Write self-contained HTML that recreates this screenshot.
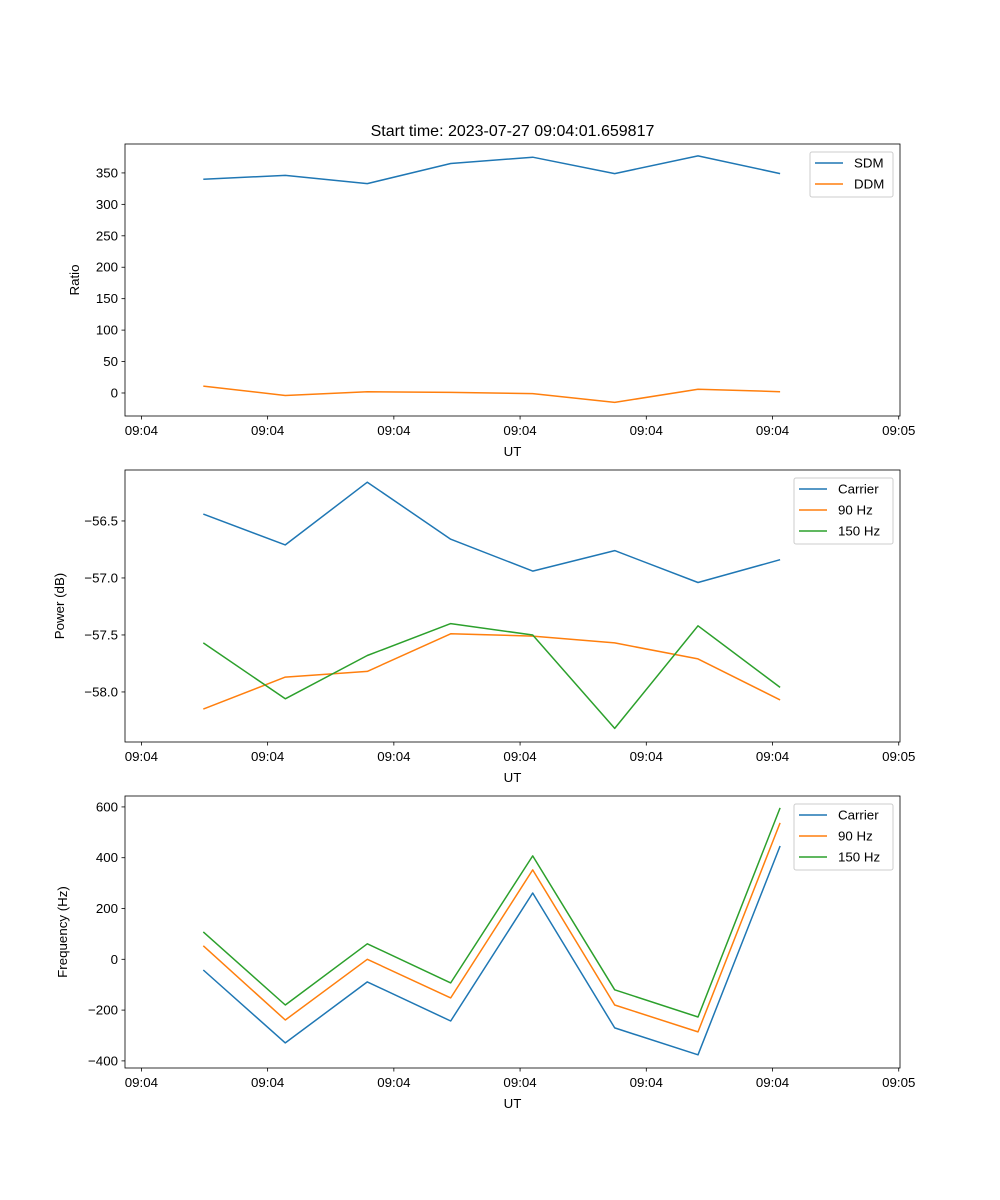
<!DOCTYPE html>
<html><head><meta charset="utf-8"><style>
body{margin:0;background:#fff}
svg{display:block;font-family:"Liberation Sans","DejaVu Sans",sans-serif}
</style></head><body>
<svg id="fig" width="1000" height="1200"></svg>
<script>
const xTime = [4.9, 11.4, 17.9, 24.5, 31.0, 37.5, 44.1, 50.6];
const xTickVals = [0, 10, 20, 30, 40, 50, 60];
const xTickLabels = ["09:04","09:04","09:04","09:04","09:04","09:04","09:05"];
const sdm = [340, 346, 333, 365, 375, 349, 377, 349];
const ddm = [11, -4, 2, 1, -1, -15, 6, 2];
const powCarrier = [-56.44, -56.71, -56.16, -56.66, -56.94, -56.76, -57.04, -56.84];
const pow90 = [-58.15, -57.87, -57.82, -57.49, -57.51, -57.57, -57.71, -58.07];
const pow150 = [-57.57, -58.06, -57.68, -57.40, -57.50, -58.32, -57.42, -57.96];
const freqCarrier = [-42, -329, -89, -243, 261, -270, -376, 446];
const freq90 = [53, -239, 0, -152, 352, -180, -286, 537];
const freq150 = [108, -180, 61, -93, 407, -120, -227, 596];
const ticks1 = [0, 50, 100, 150, 200, 250, 300, 350];
const ticks2 = [-58.0, -57.5, -57.0, -56.5];
const ticks3 = [-400, -200, 0, 200, 400, 600];

const NS = "http://www.w3.org/2000/svg";
const svg = document.getElementById("fig");
function el(tag, attrs, parent, text){
  const e = document.createElementNS(NS, tag);
  for (const k in attrs) e.setAttribute(k, attrs[k]);
  if (text !== undefined) e.textContent = text;
  (parent || svg).appendChild(e);
  return e;
}
const L = 125, R = 900;
const xMin = -1.3, xMax = 60.1;
function xs(v){ return L + (v - xMin) / (xMax - xMin) * (R - L); }
function fmt(v, d){ const s = v.toFixed(d); return v < 0 ? "\u2212" + s.slice(1) : s; }

function panel(name, top, bot, yMin, yMax, ticks, dec, ylabel, ylabelX, series, leg){
  const g = el("g", {});
  
  
  const ys = v => bot - (v - yMin) / (yMax - yMin) * (bot - top);
  ticks.forEach(t => {
    const y = ys(t);
    el("line", {x1: L-3.5, x2: L, y1: y, y2: y, stroke: "#000", "stroke-width": 0.8}, g);
    const tx = el("text", {x: L-7, y: y+4.5, "text-anchor": "end", "font-size": 13.3}, g, fmt(t, dec));
    
    
  });
  xTickVals.forEach((t, i) => {
    const x = xs(t);
    el("line", {x1: x, x2: x, y1: bot, y2: bot+3.5, stroke: "#000", "stroke-width": 0.8}, g);
    const tx = el("text", {x: x, y: bot+19, "text-anchor": "middle", "font-size": 13.3}, g, xTickLabels[i]);
    
    
  });
  const xl = el("text", {x: (L+R)/2, y: bot+40, "text-anchor": "middle", "font-size": 13.3}, g, "UT");
  
  
  const yl = el("text", {x: ylabelX, y: (top+bot)/2, "text-anchor": "middle", "font-size": 13.3, transform: `rotate(-90 ${ylabelX} ${(top+bot)/2})`}, g, ylabel);
  
  
  series.forEach(s => {
    const pts = s.vals.map((v, i) => xs(xTime[i]).toFixed(1) + "," + ys(v).toFixed(1)).join(" ");
    const p = el("polyline", {points: pts, fill: "none", stroke: s.color, "stroke-width": 1.5, "stroke-linejoin": "round"}, g);
    
    
  });
  el("rect", {x: L, y: top, width: R-L, height: bot-top, fill: "none", stroke: "#000", "stroke-width": 0.8}, g);
  const lg = el("g", {}, g);
  
  
  const lh = 3 + series.length * 21;
  el("rect", {x: leg.x, y: top+8, width: leg.w, height: lh, fill: "#fff", stroke: "#ccc", rx: 2}, lg);
  series.forEach((s, i) => {
    const y = top + 19 + i * 21;
    el("line", {x1: leg.x+5, x2: leg.x+33, y1: y, y2: y, stroke: s.color, "stroke-width": 1.5}, lg);
    const t = el("text", {x: leg.x+44, y: y+4.5, "font-size": 13.3}, lg, s.label);
    
    
  });
}
const title = el("text", {x: 512.5, y: 136, "text-anchor": "middle", "font-size": 16}, svg, "Start time: 2023-07-27 09:04:01.659817");



panel("ratio-panel", 144, 416, -36.6, 396, ticks1, 0, "Ratio", 79,
  [{key:"sdm", label:"SDM", color:"#1f77b4", vals:sdm},{key:"ddm", label:"DDM", color:"#ff7f0e", vals:ddm}],
  {x: 810, w: 83});
panel("power-panel", 470, 742, -58.439, -56.053, ticks2, 1, "Power (dB)", 64,
  [{key:"carrier", label:"Carrier", color:"#1f77b4", vals:powCarrier},{key:"90hz", label:"90 Hz", color:"#ff7f0e", vals:pow90},{key:"150hz", label:"150 Hz", color:"#2ca02c", vals:pow150}],
  {x: 794, w: 99});
panel("frequency-panel", 796, 1068, -428, 643, ticks3, 0, "Frequency (Hz)", 67,
  [{key:"carrier", label:"Carrier", color:"#1f77b4", vals:freqCarrier},{key:"90hz", label:"90 Hz", color:"#ff7f0e", vals:freq90},{key:"150hz", label:"150 Hz", color:"#2ca02c", vals:freq150}],
  {x: 794, w: 99});
</script>
</body></html>
